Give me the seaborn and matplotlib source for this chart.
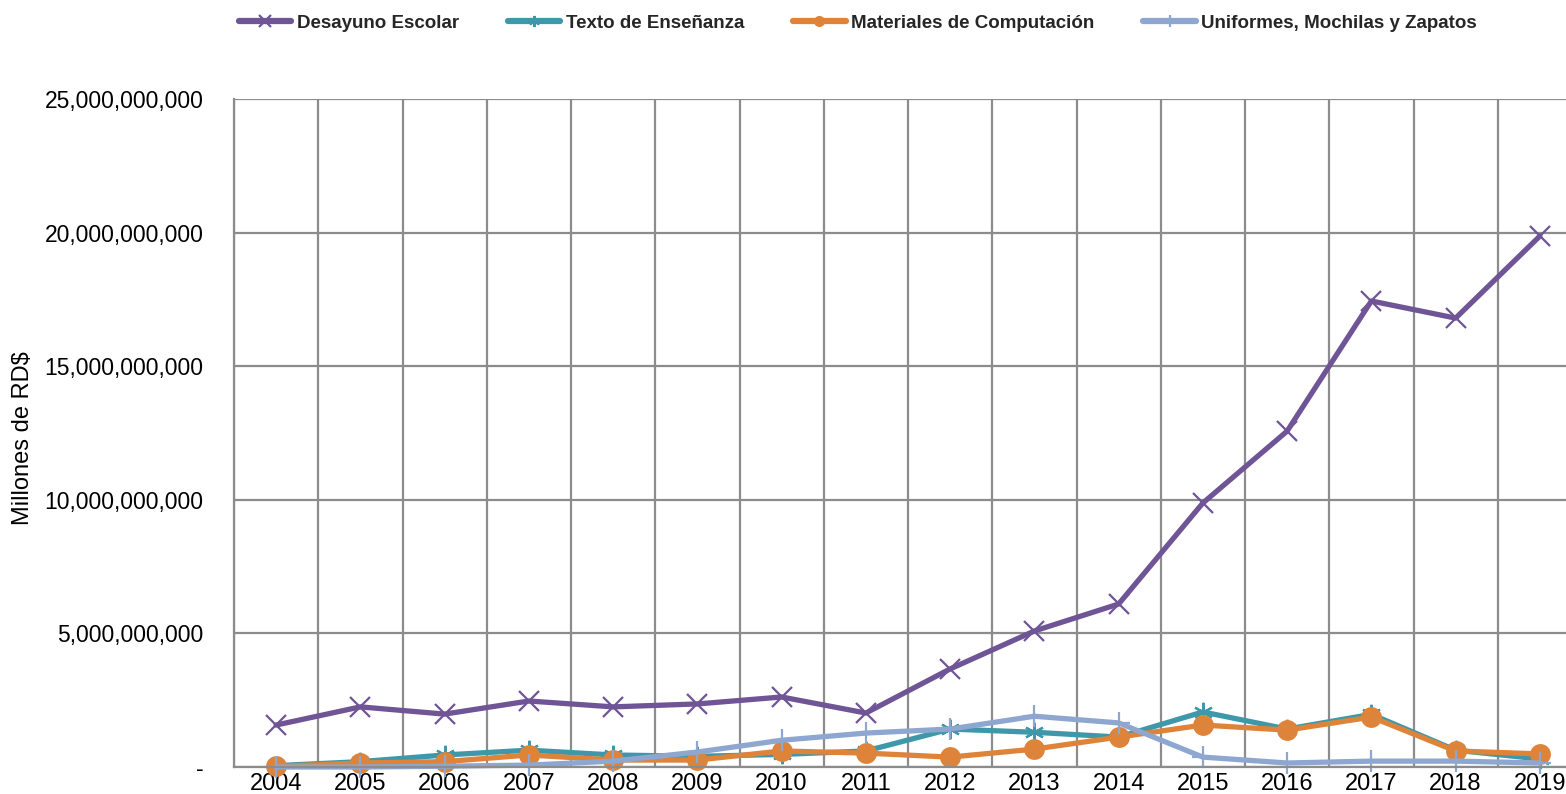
import matplotlib
matplotlib.use("Agg")
import matplotlib.pyplot as plt
import matplotlib.ticker as mticker
import seaborn as sns
import pandas as pd
import numpy as np

years = [2004, 2005, 2006, 2007, 2008, 2009, 2010, 2011,
         2012, 2013, 2014, 2015, 2016, 2017, 2018, 2019]
desayuno = [1.57e9, 2.25e9, 1.98e9, 2.47e9, 2.25e9, 2.36e9, 2.62e9, 2.02e9,
            3.67e9, 5.09e9, 6.10e9, 9.88e9, 12.57e9, 17.44e9, 16.80e9, 19.87e9]
texto = [0.05e9, 0.20e9, 0.45e9, 0.63e9, 0.45e9, 0.40e9, 0.47e9, 0.60e9,
         1.42e9, 1.30e9, 1.12e9, 2.06e9, 1.42e9, 1.97e9, 0.63e9, 0.30e9]
materiales = [0.02e9, 0.15e9, 0.20e9, 0.45e9, 0.26e9, 0.26e9, 0.60e9, 0.52e9,
              0.37e9, 0.67e9, 1.12e9, 1.57e9, 1.38e9, 1.87e9, 0.60e9, 0.49e9]
uniformes = [0.0, 0.0, 0.03e9, 0.07e9, 0.22e9, 0.56e9, 1.00e9, 1.27e9,
             1.42e9, 1.90e9, 1.65e9, 0.37e9, 0.15e9, 0.22e9, 0.22e9, 0.15e9]
series_names = ["Desayuno Escolar", "Texto de Enseñanza",
                "Materiales de Computación", "Uniformes, Mochilas y Zapatos"]
series_values = [desayuno, texto, materiales, uniformes]
colors = ["#6F5496", "#3E98AA", "#DE833A", "#8EA7D0"]
markers = ["x", (6, 2, 0), "o", "+"]
msizes = [14, 14, 15, 16]

sns.set_theme(style="white")
plt.rcParams["font.family"] = ["Liberation Sans", "DejaVu Sans"]

fig = plt.figure(figsize=(15.66, 7.94), dpi=100)
ax = fig.add_axes([234 / 1566, 27 / 794, (1582 - 234) / 1566, (767 - 99) / 794])

x = np.arange(len(years))
for name, vals, c, m, ms in zip(series_names, series_values, colors, markers, msizes):
    df = pd.DataFrame({"x": x, "y": vals})
    sns.lineplot(data=df, x="x", y="y", ax=ax, color=c, lw=3.8, marker=m,
                 markersize=ms, markeredgewidth=1.6 if m != "o" else 0,
                 markeredgecolor=c, label=name, clip_on=False)

ax.set_xlim(-0.5, len(years) - 0.5)
ax.set_ylim(0, 25e9)
ax.set_xticks(x)
ax.set_xticklabels([str(y) for y in years], fontsize=17)
ax.set_xticks(np.arange(-0.5, len(years), 1.0), minor=True)
ax.tick_params(axis="x", which="major", length=0, pad=4.5, colors="#000000")
ax.tick_params(axis="x", which="minor", length=30, color="#8C8C8C", width=1.6)
ax.set_yticks(np.arange(0, 25e9 + 1, 5e9))
ax.yaxis.set_major_formatter(mticker.FuncFormatter(
    lambda v, p: "-" if v == 0 else f"{v:,.0f}"))
ax.tick_params(axis="y", which="major", length=0, labelsize=16.5, pad=22,
               colors="#000000")
ax.grid(True, axis="y", which="major", color="#8C8C8C", lw=1.6)
ax.grid(True, axis="x", which="minor", color="#8C8C8C", lw=1.6)
ax.grid(False, axis="x", which="major")
for s in ["top", "right"]:
    ax.spines[s].set_visible(False)
for s in ["left", "bottom"]:
    ax.spines[s].set_color("#8C8C8C")
    ax.spines[s].set_linewidth(1.6)
ax.set_xlabel("")
ax.set_ylabel("Millones de RD$", fontsize=17, color="#000000")
ax.yaxis.set_label_coords((34 - 234) / 1348, 0.493)

leg = ax.legend(loc="center", bbox_to_anchor=(858 / 1566, 1 - 23 / 794),
                bbox_transform=fig.transFigure, ncol=4, frameon=False,
                prop={"weight": "bold", "size": 13.5}, handlelength=2.8,
                columnspacing=2.6, handletextpad=0.3, borderaxespad=0,
                borderpad=0)
for h in leg.legend_handles:
    h.set_markersize(8)
    h.set_linewidth(4.5)

fig.savefig("out.png", dpi=100)
